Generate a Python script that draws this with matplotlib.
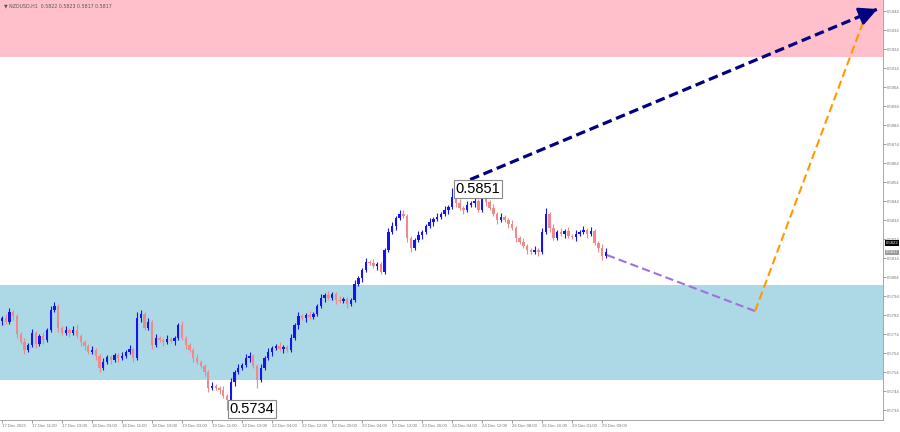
import matplotlib
matplotlib.use("Agg")
import matplotlib.pyplot as plt
import numpy as np

# hourly closes, NZDUSD
closes = [
    0.57824, 0.57803, 0.57856, 0.57835, 0.57740, 0.57698, 0.57656, 0.57682, 0.57745, 0.57687,
    0.57730, 0.57709, 0.57761, 0.57866, 0.57887, 0.57772, 0.57745, 0.57761, 0.57745, 0.57761,
    0.57730, 0.57698, 0.57677, 0.57645, 0.57656, 0.57624, 0.57561, 0.57593, 0.57619, 0.57603,
    0.57630, 0.57614, 0.57624, 0.57645, 0.57661, 0.57614, 0.57824, 0.57845, 0.57772, 0.57803,
    0.57682, 0.57719, 0.57709, 0.57698, 0.57714, 0.57703, 0.57719, 0.57787, 0.57719, 0.57682,
    0.57656, 0.57614, 0.57593, 0.57572, 0.57540, 0.57456, 0.57466, 0.57456, 0.57445, 0.57414,
    0.57393, 0.57487, 0.57540, 0.57561, 0.57577, 0.57614, 0.57624, 0.57572, 0.57498, 0.57561,
    0.57614, 0.57645, 0.57666, 0.57677, 0.57661, 0.57672, 0.57656, 0.57719, 0.57787, 0.57835,
    0.57824, 0.57840, 0.57830, 0.57845, 0.57887, 0.57930, 0.57945, 0.57930, 0.57951, 0.57919,
    0.57914, 0.57924, 0.57898, 0.57919, 0.58003, 0.58035, 0.58077, 0.58119, 0.58114, 0.58098,
    0.58108, 0.58066, 0.58182, 0.58277, 0.58308, 0.58350, 0.58371, 0.58361, 0.58245, 0.58193,
    0.58235, 0.58261, 0.58277, 0.58308, 0.58329, 0.58345, 0.58356, 0.58371, 0.58393, 0.58408,
    0.58461, 0.58429, 0.58403, 0.58393, 0.58419, 0.58429, 0.58440, 0.58393, 0.58456, 0.58435,
    0.58403, 0.58371, 0.58340, 0.58356, 0.58340, 0.58319, 0.58298, 0.58245, 0.58224, 0.58203,
    0.58182, 0.58172, 0.58182, 0.58172, 0.58277, 0.58371, 0.58298, 0.58245, 0.58277, 0.58266,
    0.58282, 0.58256, 0.58251, 0.58266, 0.58277, 0.58287, 0.58266, 0.58282, 0.58219, 0.58193,
    0.58151, 0.58172,
]
first_open = 0.57810

# wick lengths in pips
wick_up = [
    1, 2, 2, 1, 1, 1, 2, 1, 2, 1,  1, 2, 1, 2, 2, 1, 1, 2, 1, 2,
    3, 1, 1, 1, 2, 1, 1, 2, 1, 1,  1, 1, 2, 1, 2, 1, 3, 2, 1, 2,
    1, 2, 1, 1, 2, 1, 1, 1, 2, 1,  1, 1, 2, 1, 1, 1, 2, 1, 1, 2,
    1, 2, 1, 2, 1, 2, 2, 1, 1, 2,  1, 2, 1, 1, 2, 1, 1, 2, 1, 2,
    1, 1, 2, 1, 1, 2, 1, 2, 1, 1,  2, 1, 1, 1, 2, 1, 1, 2, 1, 2,
    1, 1, 1, 2, 2, 1, 2, 2, 1, 1,  1, 2, 1, 1, 2, 1, 2, 1, 2, 1,
    5, 1, 2, 1, 2, 1, 2, 1, 2, 1,  1, 2, 1, 2, 1, 1, 2, 1, 1, 2,
    1, 1, 2, 1, 2, 3, 1, 2, 1, 2,  1, 2, 1, 2, 1, 2, 1, 2, 1, 1,
    2, 2,
]
wick_dn = [
    2, 1, 1, 2, 2, 1, 2, 1, 1, 2,  1, 2, 1, 1, 1, 2, 1, 1, 2, 1,
    1, 2, 2, 1, 1, 2, 2, 1, 1, 2,  1, 2, 1, 1, 1, 2, 1, 2, 1, 1,
    2, 1, 1, 2, 1, 1, 2, 1, 1, 2,  1, 2, 1, 1, 2, 2, 1, 1, 2, 1,
    5, 1, 2, 1, 1, 1, 2, 1, 4, 1,  1, 1, 2, 1, 1, 2, 1, 1, 1, 2,
    1, 2, 1, 1, 1, 1, 2, 1, 1, 2,  1, 1, 2, 1, 1, 1, 2, 1, 1, 1,
    2, 1, 1, 1, 1, 2, 1, 1, 2, 2,  1, 1, 2, 1, 1, 2, 1, 1, 1, 2,
    1, 2, 1, 2, 1, 1, 2, 1, 1, 2,  1, 1, 2, 1, 1, 2, 1, 2, 1, 1,
    2, 1, 1, 2, 1, 1, 2, 1, 1, 1,  2, 1, 1, 2, 1, 1, 2, 1, 1, 2,
    2, 1,
]

time_labels = ["17 Dec 2025", "17 Dec 11:00", "17 Dec 19:00", "18 Dec 03:00", "18 Dec 11:00",
               "18 Dec 19:00", "19 Dec 03:00", "19 Dec 11:00", "19 Dec 19:00", "22 Dec 04:00",
               "22 Dec 12:00", "22 Dec 20:00", "23 Dec 04:00", "23 Dec 12:00", "23 Dec 20:00",
               "24 Dec 04:00", "24 Dec 12:00", "26 Dec 08:00", "26 Dec 16:00", "29 Dec 01:00",
               "29 Dec 09:00"]

# zones
sell_zone = (0.5920, 0.5960)
buy_zone = (0.5750, 0.5800)

# forecast paths (bar index, price)
main_wave_x = [121.3, 234.1]
main_wave_y = [0.58524, 0.59456]
pullback_x = [161.3, 200.8]
pullback_y = [0.58156, 0.57861]
target_x = [200.8, 230.4]
target_y = [0.57861, 0.59424]

peak_price = 0.5851
low_price = 0.5734
bid_price = 0.5822
last_price = 0.5817

closes = np.array(closes)
opens = np.concatenate([[first_open], closes[:-1]])
highs = np.maximum(opens, closes) + np.array(wick_up) * 0.0001
lows = np.minimum(opens, closes) - np.array(wick_dn) * 0.0001
x = np.arange(len(closes))

fig = plt.figure(figsize=(9, 4.32), dpi=100)
ax = fig.add_axes([0, 12 / 432, 883 / 900, 420 / 432])
ax.set_xlim(-0.53, 234.9)
ax.set_ylim(0.57288, 0.59498)

ax.axhspan(sell_zone[0], sell_zone[1], color="#ffc0cb", lw=0, zorder=0)
ax.axhspan(buy_zone[0], buy_zone[1], color="#add8e6", lw=0, zorder=0)

bull = closes >= opens
cols = np.where(bull, "#1414f0", "#f08a8a")
ax.vlines(x, lows, highs, colors=cols, lw=0.8, zorder=2)
ax.bar(x, closes - opens, bottom=opens, width=0.65, color=cols, lw=0, zorder=3)

# forecast lines
ax.plot(main_wave_x, main_wave_y, color="#000080", lw=2.3, ls=(0, (3, 1.5)), zorder=5)
ax.annotate("", xy=(main_wave_x[1], main_wave_y[1]),
            xytext=(main_wave_x[1] - 4, main_wave_y[1] - 0.00033),
            arrowprops=dict(arrowstyle="-|>,head_length=1.1,head_width=0.55",
                            color="#000080", lw=2), zorder=6)
ax.plot(pullback_x, pullback_y, color="#a070e0", lw=1.5, ls=(0, (4, 2)), zorder=5)
ax.plot(target_x, target_y, color="#ff9900", lw=1.5, ls=(0, (4, 2)), zorder=5)

box = dict(boxstyle="square,pad=0.12", fc="white", ec="#888888", lw=0.8)
ax.text(121, 0.58503, "0.5851", fontsize=10.5, family="Liberation Sans", ha="left",
        va="center", bbox=box, zorder=7)
ax.text(60.6, 0.57382, "0.5734", fontsize=10.5, family="Liberation Sans", ha="left",
        va="top", bbox=box, zorder=7)

ax.text(0.005, 0.992, "\u25bc NZDUSD,H1  0.5822 0.5823 0.5817 0.5817", transform=ax.transAxes,
        fontsize=3.4, color="#555555", ha="left", va="top")

# axes styling
for s in ["left", "top"]:
    ax.spines[s].set_visible(False)
for s in ["right", "bottom"]:
    ax.spines[s].set_color("#999999")
    ax.spines[s].set_linewidth(0.6)

ax.yaxis.tick_right()
yt = np.round(np.arange(0.5734, 0.5945, 0.0010), 4)
ax.set_yticks(yt)
ax.set_yticklabels(["%.4f" % v for v in yt])
ax.set_xticks(np.arange(0, 8 * len(time_labels), 8))
ax.set_xticklabels(time_labels, ha="left")
ax.tick_params(axis="both", labelsize=3.1, colors="#777777", length=2, width=0.5, pad=0.8)
for lab in ax.get_xticklabels() + ax.get_yticklabels():
    lab.set_family("Liberation Sans")

tr = ax.get_yaxis_transform()
ax.text(1.003, bid_price, "0.5822", transform=tr, fontsize=3.1, family="Liberation Sans",
        color="white", va="center", ha="left",
        bbox=dict(boxstyle="square,pad=0.15", fc="black", ec="none"), clip_on=False)
ax.text(1.003, last_price, "0.5817", transform=tr, fontsize=3.1, family="Liberation Sans",
        color="white", va="center", ha="left",
        bbox=dict(boxstyle="square,pad=0.15", fc="#999999", ec="none"), clip_on=False)

fig.savefig("out.png", dpi=100)
